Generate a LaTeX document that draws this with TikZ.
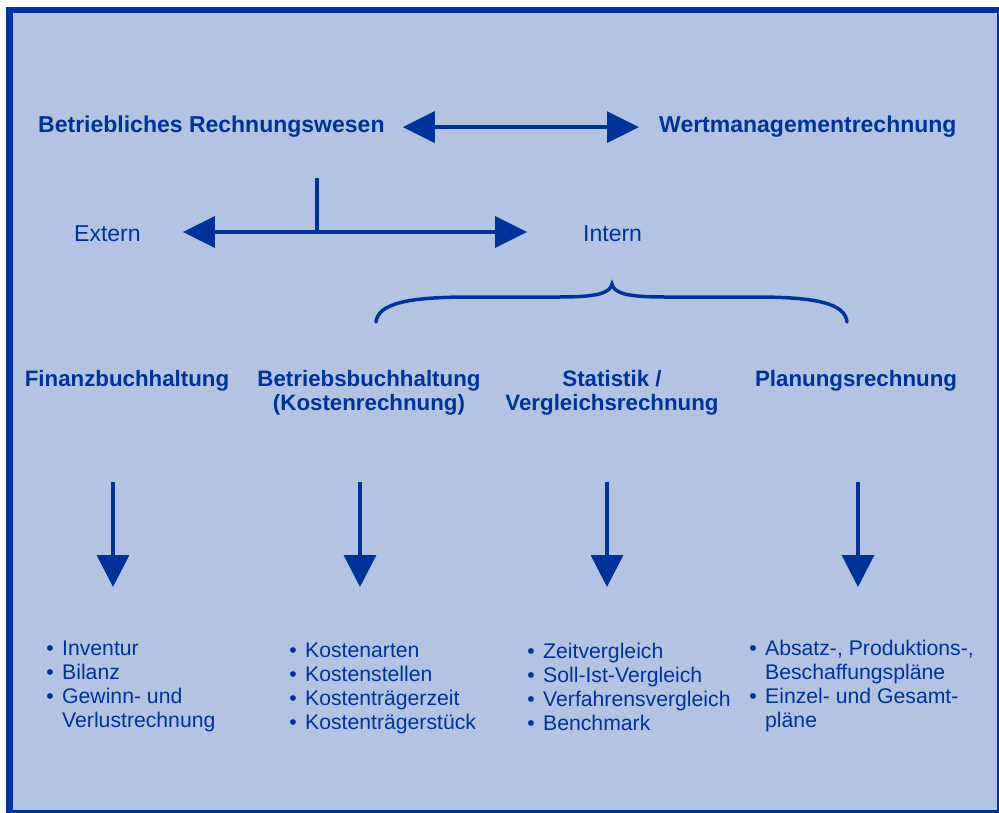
\documentclass[tikz,border=0pt]{standalone}
\usepackage{fontspec}
\setmainfont{Liberation Sans}
\usetikzlibrary{arrows.meta,calc}
\definecolor{navy}{RGB}{0,51,153}
\definecolor{pale}{RGB}{178,196,225}
% bullet cell for the item lists
\newcommand\bitem{\makebox[24pt][c]{\textbullet}}
\tikzset{
  title/.style={font=\bfseries\fontsize{23}{26}\selectfont, text=navy, inner sep=0pt, anchor=base west},
  side/.style={font=\fontsize{23}{26}\selectfont, text=navy, inner sep=0pt, anchor=base west},
  head/.style={font=\bfseries\fontsize{22.3}{24.5}\selectfont, text=navy, inner sep=0pt, anchor=base},
  items/.style={font=\fontsize{21.2}{24}\selectfont, text=navy, inner sep=0pt, anchor=base west},
  stroke/.style={draw=navy, line width=3.5pt},
  tip/.tip={Triangle[length=32pt,width=31pt]},
  dbl/.style={stroke, {tip}-{tip}},
  down/.style={stroke, -{Triangle[length=32pt,width=32pt]}},
}
\begin{document}
\begin{tikzpicture}[x=1pt,y=-1pt]
\useasboundingbox (0,0) rectangle (999,813);
% frame
\fill[white] (0,0) rectangle (999,813);
\fill[navy] (6,7) rectangle (999,813);
\fill[pale] (13,13) rectangle (997,810);

% top row
\node[title] (brw) at (38,133) {Betriebliches Rechnungswesen};
\node[title] (wmr) at (659,133) {Wertmanagementrechnung};
\draw[dbl] ($(brw.east)+(18pt,0)$) -- ($(wmr.west)+(-20pt,0)$);

% external / internal split
\node[side] (ext) at (74,242) {Extern};
\node[side] (int) at (583,242) {Intern};
\coordinate (jtop) at (317,178);
\coordinate (jn) at (317,232);
\draw[stroke] (jtop) -- (jn);
\draw[dbl] ($(jn -| ext.east)+(42pt,0)$) -- ($(jn -| int.west)+(-56pt,0)$);

% brace over the internal branches
\coordinate (bl) at (376,322);
\coordinate (bt) at (612,284);
\coordinate (br) at (847,322);
\draw[stroke, line cap=round] (bl) .. controls (378,303) and (410,297) .. (470,297)
  -- (560,297) .. controls (598,297) and (610,293) .. (bt)
  .. controls (614,293) and (626,297) .. (664,297)
  -- (755,297) .. controls (815,297) and (845,303) .. (br);

% branch headings
\node[head] (h1) at (127,386) {\begin{tabular}[t]{@{}c@{}}Finanzbuchhaltung\end{tabular}};
\node[head] (h2) at (369,386) {\begin{tabular}[t]{@{}c@{}}Betriebsbuchhaltung\\(Kostenrechnung)\end{tabular}};
\node[head] (h3) at (612,386) {\begin{tabular}[t]{@{}c@{}}Statistik /\\Vergleichsrechnung\end{tabular}};
\node[head] (h4) at (856,386) {\begin{tabular}[t]{@{}c@{}}Planungsrechnung\end{tabular}};

% downward arrows
\coordinate (a1) at (113,482); \coordinate (b1) at (113,587);
\coordinate (a2) at (360,482); \coordinate (b2) at (360,587);
\coordinate (a3) at (607,482); \coordinate (b3) at (607,587);
\coordinate (a4) at (858,482); \coordinate (b4) at (858,587);
\draw[down] (a1) -- (b1);
\draw[down] (a2) -- (b2);
\draw[down] (a3) -- (b3);
\draw[down] (a4) -- (b4);

% item lists
\node[items] (l1) at (38,655) {\begin{tabular}[t]{@{}l@{}l@{}}
  \bitem & Inventur\\ \bitem & Bilanz\\ \bitem & Gewinn- und\\ & Verlustrechnung\end{tabular}};
\node[items] (l2) at (281,657) {\begin{tabular}[t]{@{}l@{}l@{}}
  \bitem & Kostenarten\\ \bitem & Kostenstellen\\ \bitem & Kostenträgerzeit\\ \bitem & Kostenträgerstück\end{tabular}};
\node[items] (l3) at (519,658) {\begin{tabular}[t]{@{}l@{}l@{}}
  \bitem & Zeitvergleich\\ \bitem & Soll-Ist-Vergleich\\ \bitem & Verfahrensvergleich\\ \bitem & Benchmark\end{tabular}};
\node[items] (l4) at (741,655) {\begin{tabular}[t]{@{}l@{}l@{}}
  \bitem & Absatz-, Produktions-,\\ & Beschaffungspläne\\ \bitem & Einzel- und Gesamt-\\ & pläne\end{tabular}};
\end{tikzpicture}
\end{document}
